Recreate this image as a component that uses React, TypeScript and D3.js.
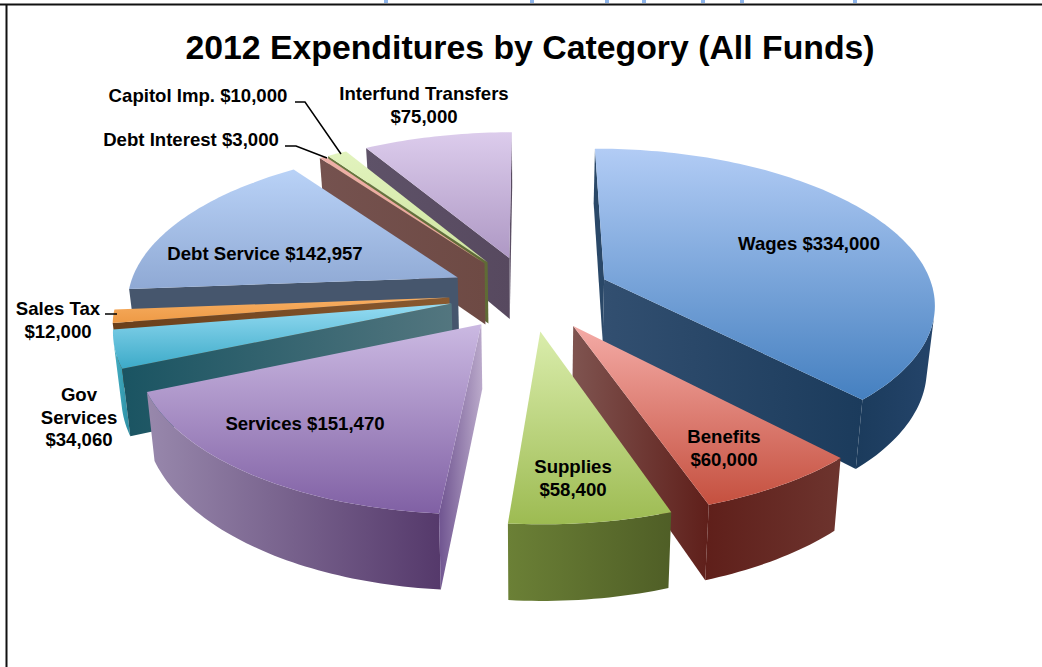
import React from "react";
import * as d3 from "d3";

// Expenditure categories, clockwise from twelve o'clock
const categories = ["Wages", "Benefits", "Supplies", "Services", "Gov Services", "Sales Tax", "Debt Service", "Debt Interest", "Capitol Imp.", "Interfund Transfers"];
const amounts = [334000, 60000, 58400, 151470, 34060, 12000, 142957, 3000, 10000, 75000];

// Painter's order: far slices first
const drawOrder = [9, 8, 7, 6, 5, 4, 3, 0, 1, 2];

// Top-face gradient stops (far edge, near edge)
const topColors = [
  ["#B2CCF5", "#4580C0"], ["#F4ABA6", "#C5503F"], ["#DAEDAC", "#9DBB52"], ["#CBB9E2", "#8060A4"], ["#96DCF3", "#3CAAC8"],
  ["#F7AE62", "#EE9A45"], ["#B9D2F7", "#8FA9D4"], ["#EFB0A8", "#E8A29A"], ["#E2F3BE", "#CFE5A0"], ["#DCCCEC", "#AE98C4"],
];
// Radial wall gradient stops (left, right)
const startWallColors = [
  ["#2A4868", "#2A4868"], ["#7F5450", "#5F1F1A"], ["#6B8036", "#6B8036"], ["#6F5490", "#BBAACB"], ["#1A5462", "#53767F"],
  ["#6A3F1A", "#8A5A30"], ["#46566D", "#46566D"], ["#75524F", "#6E4A44"], ["#6A7840", "#5F6B35"], ["#5E5268", "#57495F"],
];
const endWallColors = [
  ["#324F70", "#1B3B5C"], ["#7F5450", "#5F1F1A"], ["#6B8036", "#6B8036"], ["#8D7BA3", "#55396B"], ["#1A5462", "#53767F"],
  ["#6A3F1A", "#8A5A30"], ["#46566D", "#46566D"], ["#75524F", "#6E4A44"], ["#5F6B35", "#5F6B35"], ["#5E5268", "#57495F"],
];
const outerWallColors = [
  ["#1B3B5C", "#24446A"], ["#5F1F1A", "#6D342E"], ["#6B8036", "#4F5E26"], ["#9888AC", "#55396B"], ["#45AFC4", "#2C8EA3"],
  ["#6A3F1A", "#6A3F1A"], ["#4A5A72", "#46566D"], ["#75524F", "#75524F"], ["#5F6B35", "#5F6B35"], ["#5E5268", "#5E5268"],
];

// Text blocks beside or on the slices
const labelLines: Record<string, string[]> = {
  Wages: ["Wages $"],
  Benefits: ["Benefits", "$"],
  Supplies: ["Supplies", "$"],
  Services: ["Services $"],
  "Gov Services": ["Gov", "Services", "$"],
  "Sales Tax": ["Sales Tax", "$"],
  "Debt Service": ["Debt Service $"],
  "Debt Interest": ["Debt Interest $"],
  "Capitol Imp.": ["Capitol Imp. $"],
  "Interfund Transfers": ["Interfund Transfers", "$"],
};
const labelAnchors = [[809, 250], [724, 443], [573, 473], [305, 430], [79, 401], [58, 315], [265, 260], [191, 146], [198, 102], [424, 100]];
const leaderLines = [
  [[295, 102], [305, 102], [341, 154]],
  [[285, 146], [296, 146], [327, 158]],
  [[105, 314], [117, 314]],
];
// Descenders of a clipped heading that runs along the top edge
const clippedGlyphTails = [386, 532, 607, 644, 703, 742, 855];

const cx = 530;
const cy = 293;
const tilt = 0.143;
const explode = 0.245;
const depth = 63;

const groundX = d3.scaleLinear().domain([0, 1]).range([0, 330]);
const groundY = d3.scaleLinear().domain([0, 1]).range([0, 153]);
const line = d3.line();
const money = d3.format("$,");

type P = [number, number];
const project = (x: number, y: number, z: number): P => {
  const w = 1 + tilt * y;
  return [cx + (groundX(x) / w) * (1 - 0.02 * z), cy - groundY(y) / w + (depth * z) / w];
};

const arcs = d3.pie<number>().value((d) => d).sort(null)(amounts);

function sliceGeometry(i: number) {
  const { startAngle: a0, endAngle: a1 } = arcs[i];
  const mid = (a0 + a1) / 2;
  const ox = explode * Math.sin(mid);
  const oy = explode * Math.cos(mid);
  const rim = (a: number, z: number) => project(ox + Math.sin(a), oy + Math.cos(a), z);
  const apex = (z: number) => project(ox, oy, z);
  const steps = Math.max(4, Math.ceil((a1 - a0) / 0.02));
  const angles = d3.range(steps + 1).map((k) => a0 + ((a1 - a0) * k) / steps);
  const top = [apex(0), ...angles.map((a) => rim(a, 0))];
  // d3.polygonArea is positive for on-screen counterclockwise rings, which is how a wall facing the viewer winds
  const visible = (q: P[]) => d3.polygonArea(q as any) > 0;
  const startWall = [apex(0), rim(a0, 0), rim(a0, 1), apex(1)];
  const endWall = [rim(a1, 0), apex(0), apex(1), rim(a1, 1)];
  const shown = d3.range(steps).filter((k) =>
    visible([rim(angles[k], 0), rim(angles[k + 1], 0), rim(angles[k + 1], 1), rim(angles[k], 1)])
  );
  let outer: P[] | null = null;
  if (shown.length) {
    const seg = angles.slice(shown[0], shown[shown.length - 1] + 2);
    outer = [...seg.map((a) => rim(a, 0)), ...seg.slice().reverse().map((a) => rim(a, 1))];
  }
  return {
    top,
    startWall: visible(startWall) ? startWall : null,
    endWall: visible(endWall) ? endWall : null,
    outer,
  };
}

const pathOf = (pts: P[]) => line(pts as any) + "Z";

function Grad({ id, pts, stops, vertical }: { id: string; pts: P[]; stops: string[]; vertical?: boolean }) {
  const xs = d3.extent(pts, (p) => p[0]) as [number, number];
  const ys = d3.extent(pts, (p) => p[1]) as [number, number];
  return (
    <linearGradient
      id={id}
      gradientUnits="userSpaceOnUse"
      x1={vertical ? 0 : xs[0]}
      x2={vertical ? 0 : xs[1]}
      y1={vertical ? ys[0] : 0}
      y2={vertical ? ys[1] : 0}
    >
      <stop offset="0" stopColor={stops[0]} />
      <stop offset="1" stopColor={stops[1]} />
    </linearGradient>
  );
}

export default function App() {
  const slices = drawOrder.map((i) => ({ i, g: sliceGeometry(i) }));
  return (
    <svg
      width={1042}
      height={667}
      style={{ position: "absolute", left: 0, top: 0, background: "#fff", fontFamily: "'Liberation Sans', Arial, sans-serif" }}
    >
      <defs>
        {slices.map(({ i, g }) => (
          <React.Fragment key={i}>
            <Grad id={`top${i}`} pts={g.top} stops={topColors[i]} vertical />
            {g.outer && <Grad id={`outer${i}`} pts={g.outer} stops={outerWallColors[i]} />}
            {g.startWall && <Grad id={`start${i}`} pts={g.startWall} stops={startWallColors[i]} />}
            {g.endWall && <Grad id={`end${i}`} pts={g.endWall} stops={endWallColors[i]} />}
          </React.Fragment>
        ))}
      </defs>

      {clippedGlyphTails.map((x) => (
        <rect key={x} x={x - 2} y={0} width={4} height={3} fill="#8DB4EA" />
      ))}
      <line x1={0} x2={1042} y1={4.5} y2={4.5} stroke="#111" strokeWidth={2} />
      <line x1={6.5} x2={6.5} y1={4} y2={667} stroke="#111" strokeWidth={2} />

      <text x={530} y={59} textAnchor="middle" fontSize={33.8} fontWeight={700} fill="#000">
        2012 Expenditures by Category (All Funds)
      </text>

      {slices.map(({ i, g }) => (
        <g key={i}>
          {g.outer && <path d={pathOf(g.outer)} fill={`url(#outer${i})`} />}
          {g.startWall && <path d={pathOf(g.startWall)} fill={`url(#start${i})`} />}
          {g.endWall && <path d={pathOf(g.endWall)} fill={`url(#end${i})`} />}
          <path d={pathOf(g.top)} fill={`url(#top${i})`} />
        </g>
      ))}

      {leaderLines.map((pts, k) => (
        <path key={k} d={line(pts as any) as string} fill="none" stroke="#000" strokeWidth={1.5} />
      ))}

      {categories.map((name, i) => (
        <text key={name} textAnchor="middle" fontSize={18.6} fontWeight={700} fill="#000">
          {labelLines[name].map((t, k) => (
            <tspan key={k} x={labelAnchors[i][0]} y={labelAnchors[i][1] + k * 22.5}>
              {t === "$" ? money(amounts[i]) : t.endsWith("$") ? t.slice(0, -1) + money(amounts[i]) : t}
            </tspan>
          ))}
        </text>
      ))}
    </svg>
  );
}
